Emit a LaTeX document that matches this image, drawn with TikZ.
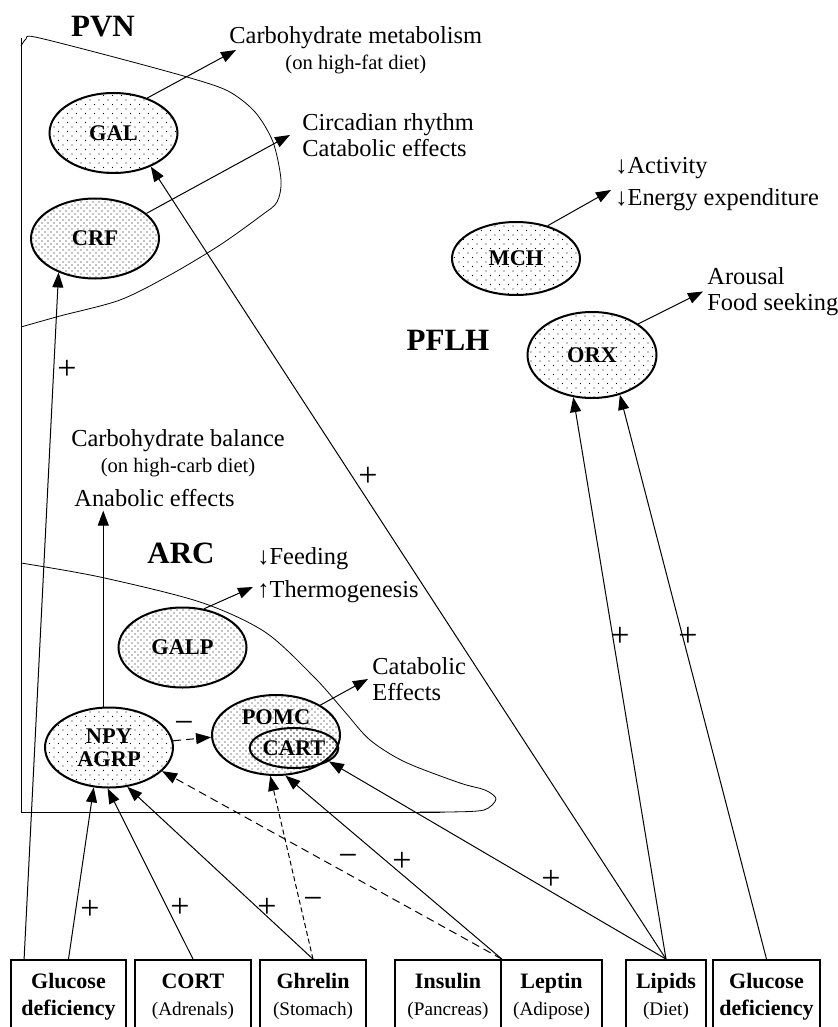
\documentclass[tikz,border=0pt]{standalone}
\usepackage{fontspec}
\setmainfont{Liberation Serif}
\usetikzlibrary{arrows.meta,patterns,shapes.geometric}

\pgfdeclarepatternformonly{sparse dots}{\pgfqpoint{-.5pt}{-.5pt}}{\pgfqpoint{2.75pt}{2.75pt}}{\pgfqpoint{4.5pt}{4.5pt}}%
{\pgfpathcircle{\pgfqpoint{0pt}{0pt}}{.35pt}\pgfpathcircle{\pgfqpoint{2.25pt}{2.25pt}}{.35pt}\pgfusepath{fill}}
\pgfdeclarepatternformonly{dense dots}{\pgfqpoint{-.5pt}{-.5pt}}{\pgfqpoint{2pt}{2pt}}{\pgfqpoint{3pt}{3pt}}%
{\pgfpathcircle{\pgfqpoint{0pt}{0pt}}{.35pt}\pgfpathcircle{\pgfqpoint{1.5pt}{1.5pt}}{.35pt}\pgfusepath{fill}}

\newcommand{\pnote}[1]{{\fontsize{10.3}{13}\selectfont #1}}
\newcommand{\bnote}[1]{{\fontsize{9.6}{13.5}\selectfont #1}}

\begin{document}
\begin{tikzpicture}[x=0.5pt,y=-0.5pt,
  lite/.style={ellipse,draw,line width=1pt,pattern=sparse dots,minimum width=64pt,minimum height=40pt,inner sep=0pt,align=center,font=\bfseries\fontsize{11.2}{11.5}\selectfont},
  dens/.style={lite,pattern=dense dots},
  area/.style={font=\bfseries\fontsize{15.5}{18}\selectfont},
  fx/.style={anchor=west,align=left,inner xsep=2pt,inner ysep=1pt,font=\fontsize{12.2}{13}\selectfont},
  src/.style={draw,line width=0.9pt,minimum height=36.5pt,inner sep=0pt,align=center,font=\fontsize{11}{13.5}\selectfont},
  sgn/.style={inner sep=0pt,font=\fontsize{17}{17}\selectfont},
  arr/.style={-{Triangle[length=7.5pt,width=5.5pt]},line width=0.5pt},
  inh/.style={arr,dash pattern=on 4pt off 2.5pt},
  inhs/.style={arr,dash pattern=on 2.5pt off 1.5pt}]
\useasboundingbox (0,0) rectangle (837,1027);

\draw (21,38) -- (21,812) -- (440,812);
\draw plot[smooth] coordinates {(21,46) (26,39) (35,37) (110,56) (187,77) (228,91) (255,112) (273,142) (281,180) (277,202) (262,215) (220,245) (170,275) (120,300) (60,316) (21,327)};
\draw plot[smooth] coordinates {(21,563) (100,577) (200,602) (265,632) (315,678) (345,712) (370,740) (405,762) (460,783) (485,790) (496,799) (484,810) (450,812) (420,812)};

\node[area] (pvn) at (103,27) {PVN};
\node[area] (arc) at (181,553) {ARC};
\node[area] (pflh) at (448,340) {PFLH};

\node[lite] (gal) at (113.5,133) {GAL};
\node[dens] (crf) at (95,238.5) {CRF};
\node[lite,minimum height=36.5pt] (mch) at (516,258.5) {MCH};
\node[lite,minimum width=64.5pt,minimum height=43pt] (orx) at (592,355) {ORX};
\node[dens] (galp) at (182.5,647.5) {GALP};
\node[lite] (npy) at (109,747.5) {NPY\\AGRP};
\node[dens] (pomc) at (276,735) {};
\node[dens,minimum width=39pt,minimum height=20pt] (cart) at (294,748) {CART};
\node[font=\bfseries\fontsize{11.2}{11.5}\selectfont] (pomctxt) at (276,717) {POMC};

\node[fx,align=center,inner xsep=0pt] (carbmet) at (229,50) {Carbohydrate metabolism\\\pnote{(on high-fat diet)}};
\node[fx,inner xsep=6pt] (circ) at (290,135) {Circadian rhythm\\Catabolic effects};
\node[fx] (act) at (611,184) {↓Activity\\[3pt]↓Energy expenditure};
\node[fx] (arous) at (703,291.5) {Arousal\\Food seeking};
\node[fx] (feed) at (253,575) {↓Feeding\\[3.5pt]↑Thermogenesis};
\node[fx] (catab) at (368,679) {Catabolic\\Effects};
\node[fx,anchor=center,align=center] (carbbal) at (178,453.5) {Carbohydrate balance\\\pnote{(on high-carb diet)}};
\node[fx,inner xsep=0pt,inner ysep=1.75pt] (anab) at (74,498) {Anabolic effects};

\node[src,minimum width=57.5pt] (gl1) at (68.5,996.5) {\textbf{Glucose}\\\textbf{deficiency}};
\node[src,minimum width=58pt] (cort) at (193,996.5) {\textbf{CORT}\\\bnote{(Adrenals)}};
\node[src,minimum width=53pt] (ghr) at (313,996.5) {\textbf{Ghrelin}\\\bnote{(Stomach)}};
\node[src,minimum width=53pt] (ins) at (448,996.5) {\textbf{Insulin}\\\bnote{(Pancreas)}};
\node[src,minimum width=50.5pt] (lep) at (551.5,996.5) {\textbf{Leptin}\\\bnote{(Adipose)}};
\node[src,minimum width=40pt] (lip) at (666,996.5) {\textbf{Lipids}\\\bnote{(Diet)}};
\node[src,minimum width=53.5pt] (gl2) at (766.5,996.5) {\textbf{Glucose}\\\textbf{deficiency}};

\draw[arr] (gal.46) -- ([xshift=3.5pt]carbmet.west);
\draw[arr] (crf.26) -- (circ.west);
\draw[arr] (mch.46) -- ([yshift=-3pt]act.west);
\draw[arr] (orx.34) -- (arous.west);
\draw[arr] (galp.61) -- ([yshift=-6pt]feed.west);
\draw[arr] (pomc.34) -- (catab.west);
\draw[arr] (npy.98) -- (npy.98 |- anab.south);
\draw[inh] (npy.6) -- (pomc.182);

\draw[arr] ([xshift=7pt]gl1.north west) -- (crf.223);
\draw[arr] (gl1.north) -- (npy.249);
\draw[arr] (cort.north) -- (npy.268);
\draw[arr] (ghr.north) -- (npy.295);
\draw[inhs] (ghr.north) -- (pomc.262);
\draw[inh] (ins.north east) -- (npy.336);
\draw[arr] (ins.north east) -- (pomc.283);
\draw[arr] (lip.north) -- (cart.339);
\draw[arr] (lip.north) -- (gal.318);
\draw[arr] (lip.north) -- (orx.246);
\draw[arr] (gl2.north) -- (orx.305);

\node[sgn] (p1) at (67,370) {+};
\node[sgn] (p2) at (90,910) {+};
\node[sgn] (p3) at (180,908) {+};
\node[sgn] (p4) at (267,908) {+};
\node[sgn] (m1) at (313,903) {−};
\node[sgn] (m2) at (348,860) {−};
\node[sgn] (p5) at (402,862) {+};
\node[sgn] (p6) at (551,880) {+};
\node[sgn] (p7) at (368,477) {+};
\node[sgn] (p8) at (620,637) {+};
\node[sgn] (p9) at (688,637) {+};
\node[sgn] (m3) at (184,727) {−};
\end{tikzpicture}
\end{document}
